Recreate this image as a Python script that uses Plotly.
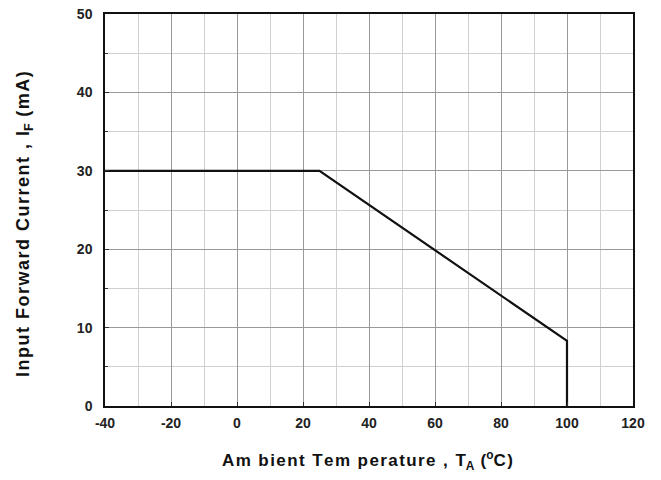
import plotly.graph_objects as go

temp = [-40, 25, 100, 100]
current = [30, 30, 8.3, 0]
x_ticks = [-40, -20, 0, 20, 40, 60, 80, 100, 120]
y_ticks = [0, 10, 20, 30, 40, 50]

HS = "\u200a"


def spaced(s):
    return HS.join(list(s))


fig = go.Figure()
fig.add_trace(go.Scatter(x=temp, y=current, mode="lines",
                         line=dict(color="#111", width=2.2), showlegend=False))

font_tick = dict(family="Liberation Sans, Arial", size=14, color="#222")
x_title = ("<b>" + spaced("Am bient Tem perature , T") + "<sub>A</sub>" + HS + " (" +
           "<sup>o</sup>" + spaced("C)") + "</b>")
y_title = ("<b>" + spaced("Input Forward Current , I") + "<sub>F</sub>" + HS + " " +
           spaced("(mA)") + "</b>")

fig.update_layout(
    width=661, height=480,
    margin=dict(l=105, r=28, t=14, b=74, autoexpand=False),
    paper_bgcolor="white", plot_bgcolor="white",
    font=dict(family="Liberation Sans, Arial", color="#222"),
    xaxis=dict(range=[-40, 120], tickvals=x_ticks, ticktext=[f"<b>{v}</b>" for v in x_ticks],
               tickfont=font_tick, showgrid=True, gridcolor="#999", gridwidth=1,
               minor=dict(dtick=10, tick0=-40, showgrid=True, gridcolor="#d0d0d0", ticks=""),
               showline=True, linecolor="#111", linewidth=1.5, mirror=True,
               ticks="inside", ticklen=4, tickcolor="#333", zeroline=False,
               ticklabelstandoff=3, automargin=False, ticklabeloverflow="allow"),
    yaxis=dict(range=[0, 50], tickvals=y_ticks, ticktext=[f"<b>{v}</b>" for v in y_ticks],
               tickfont=font_tick, showgrid=True, gridcolor="#999", gridwidth=1,
               minor=dict(dtick=5, showgrid=True, gridcolor="#d0d0d0", ticks="inside", ticklen=3, tickcolor="#333"),
               showline=True, linecolor="#111", linewidth=1.5, mirror=True,
               ticks="inside", ticklen=4, tickcolor="#333", zeroline=False,
               ticklabelstandoff=8, automargin=False, ticklabeloverflow="allow"),
    annotations=[
        dict(text=x_title,
             xref="paper", yref="paper", x=(367 - 105) / 528, y=-(460 - 406) / 392,
             xanchor="center", yanchor="middle", showarrow=False,
             font=dict(size=17, color="#111")),
        dict(text=y_title,
             xref="paper", yref="paper", x=-(105 - 24) / 528, y=(406 - 224) / 392,
             xanchor="center", yanchor="middle", showarrow=False, textangle=-90,
             font=dict(size=18, color="#111")),
    ],
)

fig.write_html("out.html")
